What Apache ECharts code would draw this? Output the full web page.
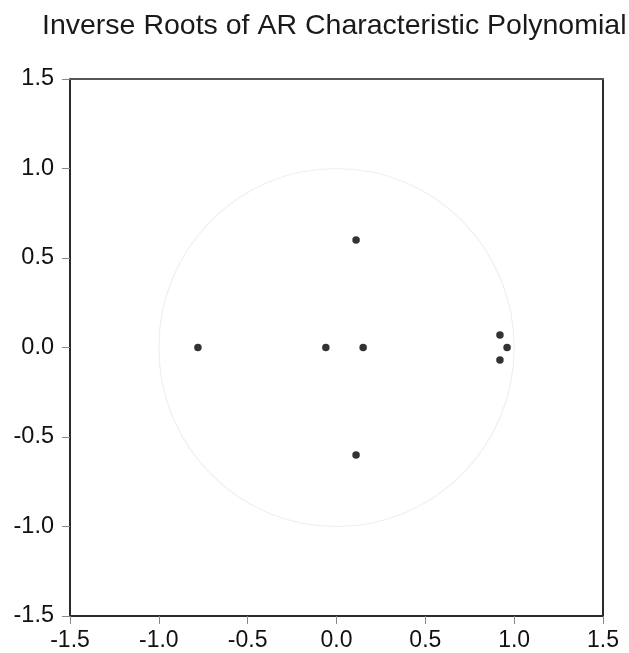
<!DOCTYPE html>
<html>
<head>
<meta charset="utf-8">
<script src="https://cdn.jsdelivr.net/npm/echarts@6/dist/echarts.min.js"></script>
<style>
html,body{margin:0;padding:0;background:#fff;overflow:hidden;}
#c{width:629px;height:653px;}
</style>
</head>
<body>
<div id="c"></div>
<script>
const titleText = "Inverse Roots of AR Characteristic Polynomial";
const rootRe = [-0.78, -0.06, 0.15, 0.11, 0.11, 0.96, 0.92, 0.92];
const rootIm = [0.0, 0.0, 0.0, 0.6, -0.6, 0.0, 0.07, -0.07];
const unitCircle = [[0, 0, 1]];
const axisMin = -1.5, axisMax = 1.5, axisStep = 0.5;

const points = rootRe.map((r, i) => [r, rootIm[i]]);
const font = "'Liberation Sans', Arial, sans-serif";

const chart = echarts.init(document.getElementById('c'));
const axisCommon = {
  type: 'value', min: axisMin, max: axisMax, interval: axisStep,
  axisLine: {show: true, onZero: false, lineStyle: {color: '#2a2a2a', width: 2}},
  axisTick: {show: true, length: 8, lineStyle: {color: '#888', width: 1}},
  splitLine: {show: false},
  axisLabel: {color: '#111', fontSize: 23.5, fontFamily: font,
    formatter: v => v.toFixed(1)}
};
chart.setOption({
  animation: false,
  backgroundColor: '#fff',
  title: {text: titleText, left: 37, top: 7,
    textStyle: {fontFamily: font, fontSize: 28.5, fontWeight: 'normal', color: '#1a1a1a'}},
  grid: {left: 70, top: 79, right: 26, bottom: 37, containLabel: false},
  xAxis: [
    Object.assign({}, axisCommon, {position: 'bottom',
      axisLabel: Object.assign({}, axisCommon.axisLabel, {margin: 13, fontSize: 23})}),
    Object.assign({}, axisCommon, {position: 'top', axisLabel: {show: false}, axisTick: {show: false},
      axisLine: {show: true, onZero: false, lineStyle: {color: '#555', width: 2}}})
  ],
  yAxis: [
    Object.assign({}, axisCommon, {position: 'left',
      axisLabel: Object.assign({}, axisCommon.axisLabel, {margin: 16})}),
    Object.assign({}, axisCommon, {position: 'right', axisLabel: {show: false}, axisTick: {show: false}})
  ],
  series: [
    {
      type: 'custom',
      data: unitCircle,
      silent: true,
      renderItem: function (params, api) {
        const c = api.coord([api.value(0), api.value(1)]);
        const s = api.size([api.value(2), api.value(2)]);
        return {
          type: 'ellipse',
          shape: {cx: c[0], cy: c[1], rx: s[0], ry: s[1]},
          style: {fill: null, stroke: '#efefef', lineWidth: 1.2}
        };
      },
      z: 1
    },
    {
      type: 'scatter',
      data: points,
      symbol: 'circle',
      symbolSize: 7.5,
      itemStyle: {color: '#000'},
      z: 3
    }
  ]
});
</script>
</body>
</html>
